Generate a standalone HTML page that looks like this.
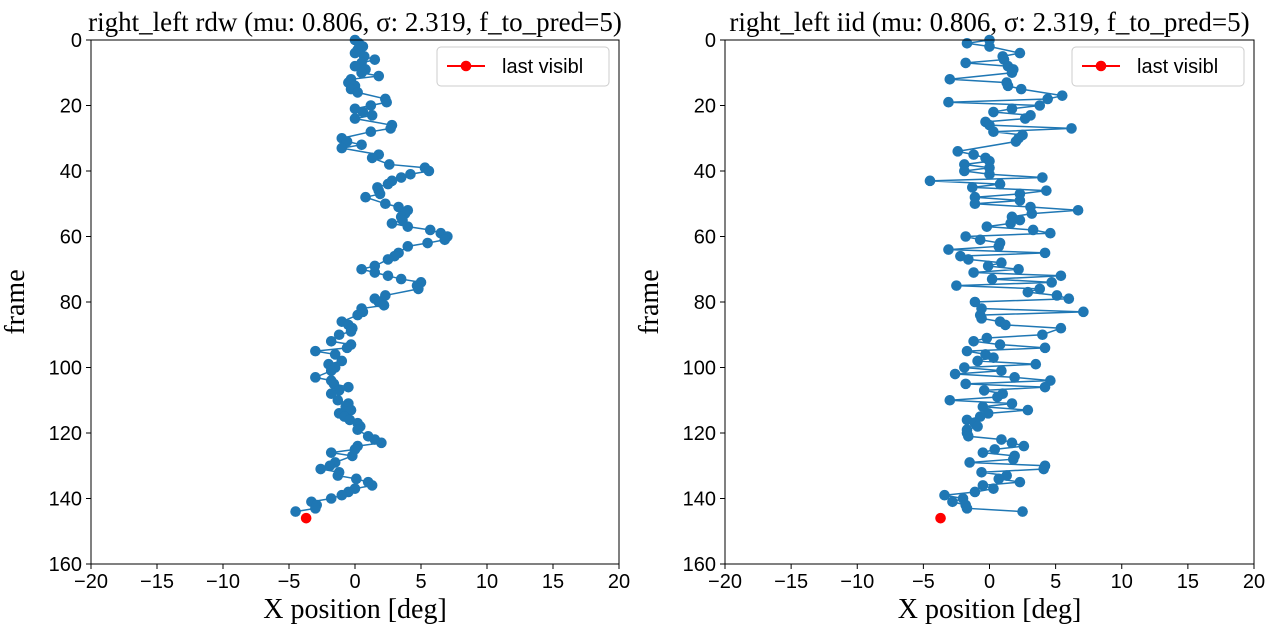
<!DOCTYPE html>
<html><head><meta charset="utf-8"><style>
body{margin:0;background:#fff}
svg text{font-family:"Liberation Sans",sans-serif}
.serif{font-family:"Liberation Serif",serif}
</style></head><body>
<svg id="c" width="1276" height="634" xmlns="http://www.w3.org/2000/svg"></svg>
<script>
const xTicks=[-20,-15,-10,-5,0,5,10,15,20];
const yTicks=[0,20,40,60,80,100,120,140,160];
const rdwFrames=[0,1,2,3,4,5,6,7,8,9,10,11,12,13,14,15,16,18,19,20,21,22,23,24,26,27,28,30,31,32,33,35,36,38,39,40,41,42,43,44,45,46,47,48,50,51,52,53,54,55,56,57,58,59,60,61,62,63,65,66,67,69,70,71,72,73,74,75,76,78,79,80,81,82,83,84,86,87,88,89,90,92,93,94,95,96,98,99,100,101,103,104,105,106,107,108,110,111,112,113,114,115,116,117,118,119,121,122,123,124,125,126,127,129,130,131,132,133,134,135,136,137,138,139,140,141,142,143,144];
const rdwX=[0,0.3,0.6,0.2,0,0.7,1.5,0.5,0,0.8,0.5,1.8,-0.3,-0.5,0,-0.3,0.2,2.3,2.4,1.2,0,0.6,1.3,0,2.8,2.7,1.2,-1.0,-0.6,0.5,-1.0,1.8,1.3,2.6,5.3,5.6,4.2,3.5,2.8,2.5,1.7,1.8,1.9,0.8,2.3,3.3,4.0,3.8,3.5,3.6,2.8,4.0,5.7,6.5,7.0,6.8,5.5,4.0,3.3,3.0,2.5,1.5,0.5,1.5,2.5,3.5,5.0,4.7,4.8,2.3,1.5,1.8,2.2,0.5,0.6,0.2,-1.0,-0.5,-0.2,-0.3,-1.2,-1.8,-0.3,-0.6,-3.0,-1.5,-1.0,-2.0,-1.5,-1.8,-3.0,-1.8,-1.6,-0.5,-1.2,-1.8,-1.3,-0.5,-0.7,-0.3,-1.2,-0.8,-0.4,0.2,0.4,0.2,1.0,1.5,2.0,0.2,0.0,-1.8,-0.2,-1.5,-1.9,-2.6,-1.2,-1.3,0.1,1.0,1.3,0.0,-0.5,-1.0,-1.8,-3.3,-2.9,-3.0,-4.5];
const iidFrames=[0,1,2,4,5,6,7,8,9,10,12,13,14,15,17,18,19,20,21,22,23,24,25,26,27,28,29,30,31,34,35,36,37,38,39,40,41,42,43,44,45,46,47,48,49,50,51,52,53,54,55,56,57,58,59,60,61,62,63,64,65,66,67,68,69,70,71,72,73,74,75,76,77,78,79,80,82,83,84,85,86,87,88,90,91,92,93,94,95,96,97,98,99,100,101,102,103,104,105,106,107,108,109,110,111,112,113,114,115,116,117,118,119,120,121,122,123,124,125,126,127,128,129,130,131,132,133,134,135,136,137,138,139,140,141,142,143,144];
const iidX=[0,-1.7,0,2.3,1.0,1.1,-1.8,1.4,1.8,1.7,-3.0,1.3,1.4,2.4,5.5,4.4,-3.1,3.8,1.7,0.3,3.1,2.7,-0.3,0,6.2,0.3,2.5,2.2,2.0,-2.4,-1.2,-0.3,0,-1.9,0,-1.9,0,4.0,-4.5,0.8,-1.3,4.3,2.3,-1.1,2.3,-1.1,3.1,6.7,3.2,1.7,2.3,1.6,-0.2,3.3,4.6,-1.8,-0.7,0.8,0.7,-3.1,4.2,-2.2,-1.6,0.9,-0.1,2.2,-1.2,5.4,0.2,4.7,-2.5,3.8,2.9,5.1,6.0,-1.1,-0.6,7.1,-0.7,-0.6,0.8,1.2,5.4,4.0,-0.2,-1.2,0.8,4.2,-1.7,-0.3,0.3,-0.9,3.5,-1.9,0.9,-2.6,1.9,4.6,-1.8,4.2,-0.4,1.0,0.6,-3.0,1.7,-0.5,2.9,-0.1,-0.7,-1.7,-1.1,-0.9,-1.7,-1.7,-1.6,0.9,1.7,2.6,0.4,-0.5,1.9,1.8,-1.5,4.2,4.1,-0.6,1.3,0.7,2.3,-0.5,0.3,-1.1,-3.4,-2.0,-2.8,-1.8,-1.7,2.5];
const lastFrame=146, lastX=-3.7;

const svg=document.getElementById('c');const NS='http://www.w3.org/2000/svg';
function mk(t,a,p,txt){const e=document.createElementNS(NS,t);for(const k in a)e.setAttribute(k,a[k]);if(txt!==undefined)e.textContent=txt;(p||svg).appendChild(e);return e;}
const panels=[
 {x0:91,x1:619,title:'right_left rdw (mu: 0.806, σ: 2.319, f_to_pred=5)',fr:rdwFrames,xs:rdwX,name:'rdw'},
 {x0:725,x1:1254,title:'right_left iid (mu: 0.806, σ: 2.319, f_to_pred=5)',fr:iidFrames,xs:iidX,name:'iid'}];
const y0=40,y1=564;
panels.forEach(p=>{
 const g=mk('g',{});
 
 
 const sx=v=>p.x0+(v+20)/40*(p.x1-p.x0);
 const sy=v=>y0+v/160*(y1-y0);
 const cx=(p.x0+p.x1)/2;
 const t=mk('text',{x:cx,y:31,'text-anchor':'middle','font-size':27,class:'serif'},g,p.title);
 
 
 xTicks.forEach(v=>{mk('line',{x1:sx(v),x2:sx(v),y1:y1,y2:y1+5,stroke:'#000','stroke-width':1},g);
  const l=mk('text',{x:sx(v),y:y1+24,'text-anchor':'middle','font-size':20},g,v<0?'−'+(-v):String(v));
  
  });
 yTicks.forEach(v=>{mk('line',{x1:p.x0-5,x2:p.x0,y1:sy(v),y2:sy(v),stroke:'#000','stroke-width':1},g);
  const l=mk('text',{x:p.x0-9,y:sy(v)+7,'text-anchor':'end','font-size':20},g,String(v));
  
  });
 const xl=mk('text',{x:cx,y:618,'text-anchor':'middle','font-size':28,class:'serif'},g,'X position [deg]');
 
 
 const yx=p.x0-67;
 const yl=mk('text',{x:yx,y:302,'text-anchor':'middle','font-size':28,class:'serif',transform:`rotate(-90 ${yx} 302)`},g,'frame');
 
 
 const pts=p.fr.map((f,i)=>sx(p.xs[i])+','+sy(f)).join(' ');
 const ln=mk('polyline',{points:pts,fill:'none',stroke:'#1f77b4','stroke-width':1.5},g);
 
 
 p.fr.forEach((f,i)=>{const c=mk('circle',{cx:sx(p.xs[i]),cy:sy(f),r:5.3,fill:'#1f77b4'},g);
  
  });
 const r=mk('circle',{cx:sx(lastX),cy:sy(lastFrame),r:5.3,fill:'#ff0000'},g);
 
 
 mk('rect',{x:p.x0,y:y0,width:p.x1-p.x0,height:y1-y0,fill:'none',stroke:'#000','stroke-width':1},g);
 const lg=mk('g',{},g);
 
 
 const lx=p.x1-182;
 mk('rect',{x:lx,y:47,width:172,height:39,rx:4,fill:'#fff',stroke:'#ccc'},lg);
 mk('line',{x1:lx+10,x2:lx+48,y1:66,y2:66,stroke:'#ff0000','stroke-width':2},lg);
 mk('circle',{cx:lx+29,cy:66,r:5.3,fill:'#ff0000'},lg);
 mk('text',{x:lx+65,y:73,'font-size':20},lg,'last visibl');
});
</script>
</body></html>
